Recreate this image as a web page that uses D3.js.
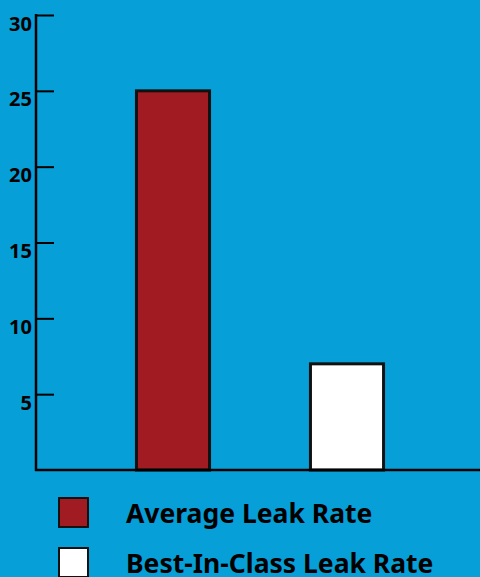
<!DOCTYPE html>
<html><head><meta charset="utf-8">
<script src="https://cdn.jsdelivr.net/npm/d3@7"></script>
<style>html,body{margin:0;padding:0;background:#069fd8;}svg{display:block;}</style>
</head><body>
<script>
const categories = ["Average Leak Rate", "Best-In-Class Leak Rate"];
const values = [25, 7];
const colors = ["#a01c22", "#ffffff"];
const tickValues = [5, 10, 15, 20, 25, 30];

const W = 480, H = 577;
const svg = d3.select("body").append("svg").attr("width", W).attr("height", H);
svg.append("rect").attr("width", W).attr("height", H).attr("fill", "#069fd8");

const font = "'Noto Sans', sans-serif";
const y = d3.scaleLinear().domain([0, 30]).range([470, 15]);
const x = d3.scaleBand().domain(categories).range([35, 485]).paddingInner(0.58).paddingOuter(0.583);

// bars
svg.selectAll("rect.bar").data(categories).enter().append("rect")
  .attr("class", "bar")
  .attr("x", d => x(d))
  .attr("y", (d, i) => y(values[i]))
  .attr("width", x.bandwidth())
  .attr("height", (d, i) => y(0) - y(values[i]))
  .attr("fill", (d, i) => colors[i])
  .attr("stroke", "#111")
  .attr("stroke-width", 3);

// y axis
const yAxis = d3.axisRight(y).tickValues(tickValues).tickSize(18).tickFormat("");
const gy = svg.append("g").attr("transform", "translate(36,0)").call(yAxis);
gy.select(".domain").remove();
gy.selectAll(".tick line").attr("stroke", "#000").attr("stroke-width", 2);
svg.append("line").attr("x1", 36).attr("x2", 36).attr("y1", y(30) - 1).attr("y2", y(0) + 1)
  .attr("stroke", "#000").attr("stroke-width", 2.5);
// tick labels
svg.selectAll("text.yl").data(tickValues).enter().append("text")
  .attr("class", "yl")
  .attr("x", 32).attr("y", d => y(d) + 15.5)
  .attr("text-anchor", "end")
  .attr("font-family", font).attr("font-weight", "bold").attr("font-size", 20)
  .attr("fill", "#000")
  .text(d => d);

// x axis line
svg.append("line").attr("x1", 35).attr("x2", W).attr("y1", y(0)).attr("y2", y(0))
  .attr("stroke", "#000").attr("stroke-width", 2.5);

// legend
const lg = svg.selectAll("g.lg").data(categories).enter().append("g")
  .attr("class", "lg")
  .attr("transform", (d, i) => `translate(0,${498 + i * 50})`);
lg.append("rect").attr("x", 59).attr("y", 0).attr("width", 29).attr("height", 29)
  .attr("fill", (d, i) => colors[i]).attr("stroke", "#111").attr("stroke-width", 2);
lg.append("text").attr("x", 126).attr("y", 24.5)
  .attr("font-family", font).attr("font-weight", "bold").attr("font-size", 26.5)
  .attr("fill", "#000")
  .text(d => d);
</script>
</body></html>
